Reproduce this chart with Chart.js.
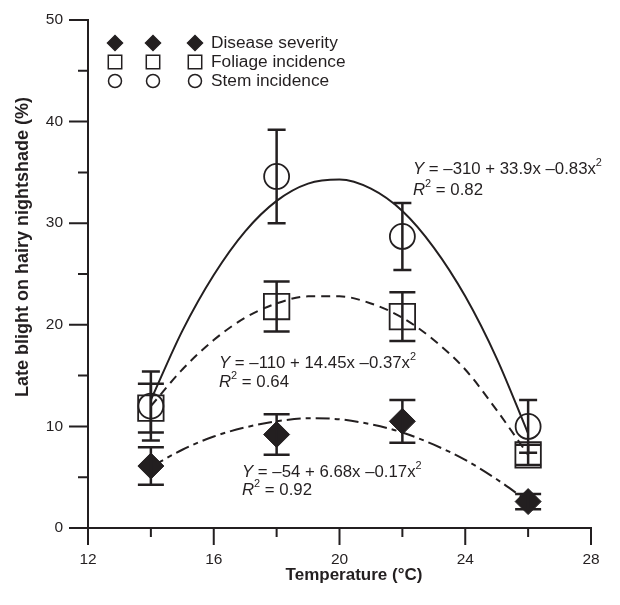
<!DOCTYPE html>
<html lang="en">
<head>
<meta charset="UTF-8" />
<title>Late blight on hairy nightshade</title>
<script src="https://cdn.jsdelivr.net/npm/chart.js"></script>
<style>
  html, body { margin: 0; padding: 0; background: #fff; }
  .wrap { position: relative; width: 620px; height: 605px; }
</style>
</head>
<body>
<div class="wrap"><canvas id="blightChart" width="620" height="605"></canvas></div>
<script>
// measured means (with standard error) at each temperature
const temps = [14, 18, 22, 26];
const stemIncidence = [12.0, 34.6, 28.7, 10.0];
const stemErr = [3.4, 4.6, 3.3, 2.6];
const foliageIncidence = [11.8, 21.8, 20.8, 7.2];
const foliageErr = [2.4, 2.45, 2.4, 1.0];
const diseaseSeverity = [6.1, 9.2, 10.5, 2.6];
const severityErr = [1.85, 2.0, 2.1, 0.75];

// fitted curves at each degree
const curveTemps = [14, 15, 16, 17, 18, 19, 20, 21, 22, 23, 24, 25, 26];
const stemCurve = [12.6, 19.4, 24.9, 29.2, 32.2, 33.9, 34.3, 33.4, 31.2, 27.6, 22.8, 16.7, 9.3];
const foliageCurve = [12.0, 15.6, 18.5, 20.7, 22.1, 22.8, 22.8, 22.1, 20.7, 18.5, 15.6, 11.6, 7.2];
const severityCurve = [6.0, 7.7, 9.0, 9.9, 10.5, 10.8, 10.7, 10.2, 9.4, 8.2, 6.7, 4.8, 2.6];

const legendLabels = ["Disease severity", "Foliage incidence", "Stem incidence"];
const fitLabels = [
  { eq: " = \u2013310 + 33.9x \u20130.83x", r2: " = 0.82" },
  { eq: " = \u2013110 + 14.45x \u20130.37x", r2: " = 0.64" },
  { eq: " = \u201354 + 6.68x \u20130.17x", r2: " = 0.92" },
];

const FONT = "'Liberation Sans', Arial, Helvetica, sans-serif";
const INK = "#231f20";

function toPoints(xs, ys) {
  return xs.map((x, i) => ({ x: x, y: ys[i] }));
}

// vertical error bars with caps
const errorBars = {
  id: "errorBars",
  afterDatasetsDraw(chart) {
    const { ctx, scales } = chart;
    chart.data.datasets.forEach((ds) => {
      if (!ds.err) return;
      ctx.save();
      ctx.strokeStyle = INK;
      ctx.lineWidth = 2.5;
      ds.data.forEach((p, i) => {
        const px = scales.x.getPixelForValue(p.x);
        const top = scales.y.getPixelForValue(p.y + ds.err[i]);
        const bot = scales.y.getPixelForValue(p.y - ds.err[i]);
        const half = ds.capWidth / 2;
        ctx.beginPath();
        ctx.moveTo(px, top);
        ctx.lineTo(px, bot);
        ctx.moveTo(px - half, top);
        ctx.lineTo(px + half, top);
        ctx.moveTo(px - half, bot);
        ctx.lineTo(px + half, bot);
        ctx.stroke();
      });
      ctx.restore();
    });
  },
};

// outside tick marks, long on labelled values
const axisTicks = {
  id: "axisTicks",
  afterDraw(chart) {
    const { ctx, chartArea, scales } = chart;
    ctx.save();
    ctx.strokeStyle = INK;
    ctx.lineWidth = 2;
    ctx.beginPath();
    scales.x.ticks.forEach((t) => {
      const px = scales.x.getPixelForValue(t.value);
      const len = t.value % 4 === 0 ? 17 : 9;
      ctx.moveTo(px, chartArea.bottom);
      ctx.lineTo(px, chartArea.bottom + len);
    });
    scales.y.ticks.forEach((t) => {
      const py = scales.y.getPixelForValue(t.value);
      const len = t.value % 10 === 0 ? 19 : 10;
      ctx.moveTo(chartArea.left, py);
      ctx.lineTo(chartArea.left - len, py);
    });
    ctx.stroke();

    // axis titles
    ctx.fillStyle = INK;
    ctx.textAlign = "center";
    ctx.textBaseline = "middle";
    ctx.font = "bold 17px " + FONT;
    ctx.fillText("Temperature (\u00b0C)", 354, 575);
    ctx.translate(23, 247);
    ctx.rotate(-Math.PI / 2);
    ctx.font = "bold 18px " + FONT;
    ctx.fillText("Late blight on hairy nightshade (%)", 0, 0);
    ctx.restore();
  },
};

// three columns of symbols, as in the original figure
const symbolLegend = {
  id: "symbolLegend",
  afterDraw(chart) {
    const ctx = chart.ctx;
    const styles = [
      { pointStyle: "rectRot", radius: 7.5, fill: INK },
      { pointStyle: "rect", radius: 9.5, fill: "rgba(0,0,0,0)" },
      { pointStyle: "circle", radius: 6.5, fill: "rgba(0,0,0,0)" },
    ];
    const cols = [115, 153, 195];
    const rows = [43, 62, 81];
    ctx.save();
    legendLabels.forEach((label, r) => {
      cols.forEach((cx) => {
        ctx.fillStyle = styles[r].fill;
        ctx.strokeStyle = INK;
        ctx.lineWidth = 1.5;
        Chart.helpers.drawPoint(ctx, { pointStyle: styles[r].pointStyle, radius: styles[r].radius, rotation: 0, borderWidth: 1.5 }, cx, rows[r]);
      });
      ctx.fillStyle = INK;
      ctx.font = "17.3px " + FONT;
      ctx.textAlign = "left";
      ctx.textBaseline = "middle";
      ctx.fillText(label, 211, rows[r]);
    });
    ctx.restore();
  },
};

function richLine(ctx, x, y, parts, size) {
  parts.forEach((p) => {
    const fs = p.sup ? size * 0.65 : size;
    ctx.font = (p.italic ? "italic " : "") + fs + "px " + FONT;
    ctx.fillText(p.t, x, p.sup ? y - size * 0.38 : y);
    x += ctx.measureText(p.t).width;
  });
}

// regression equations beside each curve
const fitText = {
  id: "fitText",
  afterDraw(chart) {
    const ctx = chart.ctx;
    const spots = [
      { x: 413, y: 169, dy: 21 },
      { x: 219, y: 363, dy: 19 },
      { x: 242, y: 472, dy: 18.5 },
    ];
    ctx.save();
    ctx.fillStyle = INK;
    ctx.textAlign = "left";
    ctx.textBaseline = "middle";
    fitLabels.forEach((f, i) => {
      const s = spots[i];
      richLine(ctx, s.x, s.y, [{ t: "Y", italic: true }, { t: f.eq }, { t: "2", sup: true }], 16.8);
      richLine(ctx, s.x, s.y + s.dy, [{ t: "R", italic: true }, { t: "2", sup: true }, { t: f.r2 }], 16.8);
    });
    ctx.restore();
  },
};

const ctx = document.getElementById("blightChart").getContext("2d");

const blightChart = new Chart(ctx, {
  type: "scatter",
  data: {
    datasets: [
      {
        label: "Disease severity",
        data: toPoints(temps, diseaseSeverity),
        err: severityErr,
        capWidth: 26,
        pointStyle: "rectRot",
        pointRadius: 13,
        pointBackgroundColor: INK,
        pointBorderColor: INK,
        pointBorderWidth: 1,
      },
      {
        label: "Foliage incidence",
        data: toPoints(temps, foliageIncidence),
        err: foliageErr,
        capWidth: 26,
        pointStyle: "rect",
        pointRadius: 18,
        pointBackgroundColor: "rgba(0,0,0,0)",
        pointBorderColor: INK,
        pointBorderWidth: 1.8,
      },
      {
        label: "Stem incidence",
        data: toPoints(temps, stemIncidence),
        err: stemErr,
        capWidth: 18,
        pointStyle: "circle",
        pointRadius: 12.5,
        pointBackgroundColor: "rgba(0,0,0,0)",
        pointBorderColor: INK,
        pointBorderWidth: 1.8,
      },
      {
        label: "Stem fit",
        data: toPoints(curveTemps, stemCurve),
        showLine: true,
        pointRadius: 0,
        borderColor: INK,
        borderWidth: 2,
        cubicInterpolationMode: "monotone",
      },
      {
        label: "Foliage fit",
        data: toPoints(curveTemps, foliageCurve),
        showLine: true,
        pointRadius: 0,
        borderColor: INK,
        borderWidth: 2,
        borderDash: [9, 6],
        cubicInterpolationMode: "monotone",
      },
      {
        label: "Severity fit",
        data: toPoints(curveTemps, severityCurve),
        showLine: true,
        pointRadius: 0,
        borderColor: INK,
        borderWidth: 2,
        borderDash: [14, 5, 5, 5],
        cubicInterpolationMode: "monotone",
      },
    ],
  },
  options: {
    responsive: false,
    animation: false,
    devicePixelRatio: 1,
    layout: { padding: { top: 20, right: 29, left: 0, bottom: 0 } },
    plugins: {
      legend: { display: false },
      tooltip: { enabled: false },
    },
    scales: {
      x: {
        type: "linear",
        min: 12,
        max: 28,
        afterFit(scale) {
          scale.height = 77;
        },
        grid: { display: false },
        border: { display: true, color: INK, width: 2 },
        ticks: {
          stepSize: 2,
          autoSkip: false,
          maxRotation: 0,
          padding: 14,
          color: INK,
          font: { family: FONT, size: 15.5 },
          callback: (v) => (v % 4 === 0 ? v : ""),
        },
      },
      y: {
        min: 0,
        max: 50,
        afterFit(scale) {
          scale.width = 88;
          scale.paddingTop = 0;
          scale.paddingBottom = 0;
        },
        grid: { display: false },
        border: { display: true, color: INK, width: 2 },
        ticks: {
          stepSize: 5,
          autoSkip: false,
          padding: 17,
          color: INK,
          font: { family: FONT, size: 15.5 },
          callback: (v) => (v % 10 === 0 ? v : ""),
        },
      },
    },
  },
  plugins: [errorBars, axisTicks, symbolLegend, fitText],
});
</script>
</body>
</html>
